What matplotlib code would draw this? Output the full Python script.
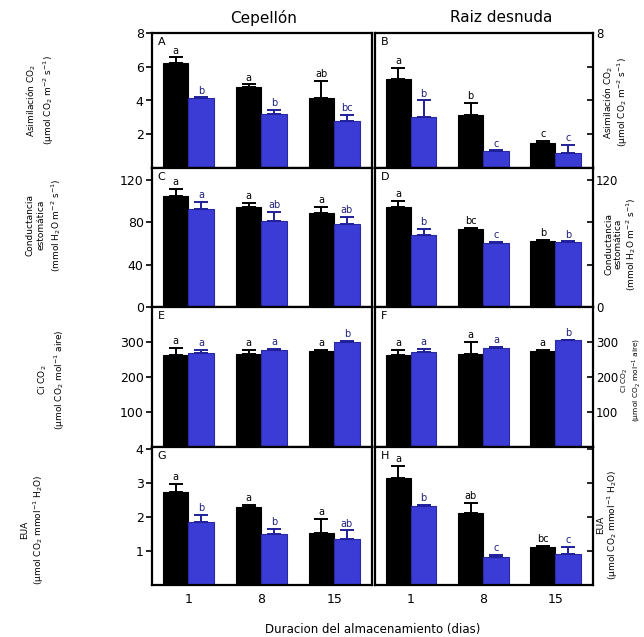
import matplotlib
matplotlib.use('Agg')
import matplotlib.pyplot as plt
import numpy as np

plt.rcParams['font.family'] = ['DejaVu Sans']

days = ['1', '8', '15']
col_titles = ['Cepellón', 'Raiz desnuda']

# Asimilacion CO2
asim_cep_black = [6.25, 4.8, 4.15]
asim_cep_black_err = [0.3, 0.17, 1.0]
asim_cep_blue = [4.12, 3.2, 2.8]
asim_cep_blue_err = [0.08, 0.23, 0.34]
asim_rd_black = [5.3, 3.14, 1.48]
asim_rd_black_err = [0.65, 0.71, 0.12]
asim_rd_blue = [3.0, 1.0, 0.9]
asim_rd_blue_err = [1.0, 0.05, 0.47]
asim_cep_let = [['a', 'a', 'ab'], ['b', 'b', 'bc']]
asim_rd_let = [['a', 'b', 'c'], ['b', 'c', 'c']]

# Conductancia estomatica
cond_cep_black = [105, 94.5, 89]
cond_cep_black_err = [6.5, 3.5, 5.5]
cond_cep_blue = [92.6, 81, 78.4]
cond_cep_blue_err = [6.5, 9, 6.6]
cond_rd_black = [94.5, 73.7, 62.4]
cond_rd_black_err = [5.5, 0.8, 0.6]
cond_rd_blue = [68, 60.5, 61.4]
cond_rd_blue_err = [5.7, 1.0, 0.6]
cond_cep_let = [['a', 'a', 'a'], ['a', 'ab', 'ab']]
cond_rd_let = [['a', 'bc', 'b'], ['b', 'c', 'b']]

# Ci CO2
ci_cep_black = [262, 265, 274]
ci_cep_black_err = [21, 12, 3]
ci_cep_blue = [268, 277, 300]
ci_cep_blue_err = [9, 3, 3]
ci_rd_black = [262, 265, 274]
ci_rd_black_err = [15, 35, 4]
ci_rd_blue = [271, 283, 306]
ci_rd_blue_err = [10, 4, 1]
ci_cep_let = [['a', 'a', 'a'], ['a', 'a', 'b']]
ci_rd_let = [['a', 'a', 'a'], ['a', 'a', 'b']]

# EUA
eua_cep_black = [2.74, 2.3, 1.53]
eua_cep_black_err = [0.23, 0.06, 0.42]
eua_cep_blue = [1.85, 1.5, 1.35]
eua_cep_blue_err = [0.21, 0.15, 0.25]
eua_rd_black = [3.15, 2.12, 1.12]
eua_rd_black_err = [0.35, 0.29, 0.03]
eua_rd_blue = [2.32, 0.82, 0.91]
eua_rd_blue_err = [0.03, 0.06, 0.21]
eua_cep_let = [['a', 'a', 'a'], ['b', 'b', 'ab']]
eua_rd_let = [['a', 'ab', 'bc'], ['b', 'c', 'c']]

# y ticks per row, and which labels show on the right-hand axis
row_ticks = [[2, 4, 6, 8], [0, 40, 80, 120], [100, 200, 300], [1, 2, 3, 4]]
right_labels = [['', '', '', '8'], ['0', '', '', '120'], ['100', '200', '300'], ['', '', '', '']]
row_ylim = [8, 131, 400, 4.05]

rows = [
    dict(cep=(asim_cep_black, asim_cep_black_err, asim_cep_blue, asim_cep_blue_err, asim_cep_let),
         rd=(asim_rd_black, asim_rd_black_err, asim_rd_blue, asim_rd_blue_err, asim_rd_let)),
    dict(cep=(cond_cep_black, cond_cep_black_err, cond_cep_blue, cond_cep_blue_err, cond_cep_let),
         rd=(cond_rd_black, cond_rd_black_err, cond_rd_blue, cond_rd_blue_err, cond_rd_let)),
    dict(cep=(ci_cep_black, ci_cep_black_err, ci_cep_blue, ci_cep_blue_err, ci_cep_let),
         rd=(ci_rd_black, ci_rd_black_err, ci_rd_blue, ci_rd_blue_err, ci_rd_let)),
    dict(cep=(eua_cep_black, eua_cep_black_err, eua_cep_blue, eua_cep_blue_err, eua_cep_let),
         rd=(eua_rd_black, eua_rd_black_err, eua_rd_blue, eua_rd_blue_err, eua_rd_let)),
]
panel_letters = [['A', 'B'], ['C', 'D'], ['E', 'F'], ['G', 'H']]

blue = '#3b3bd6'
W, H = 644, 637
fig = plt.figure(figsize=(W / 100, H / 100), dpi=100)

col_x = [(152, 372), (375, 593)]
row_y = [(33, 168), (168, 307), (307, 447), (447, 585)]

x = np.arange(3)
w = 0.35

for r, row in enumerate(rows):
    for c, key in enumerate(['cep', 'rd']):
        x0, x1 = col_x[c]
        y0, y1 = row_y[r]
        ax = fig.add_axes([x0 / W, 1 - y1 / H, (x1 - x0) / W, (y1 - y0) / H])
        bk, bk_err, bl, bl_err, lets = row[key]
        ax.bar(x - w / 2, bk, w, color='black', edgecolor='black', linewidth=0.8)
        ax.bar(x + w / 2, bl, w, color=blue, edgecolor='#2a2aa0', linewidth=0.8)
        ax.errorbar(x - w / 2, bk, yerr=[np.zeros(3), bk_err], fmt='none',
                    ecolor='black', elinewidth=1.4, capsize=5, capthick=1.4)
        ax.errorbar(x + w / 2, bl, yerr=[np.zeros(3), bl_err], fmt='none',
                    ecolor='#20209a', elinewidth=1.4, capsize=5, capthick=1.4)
        pad = row_ylim[r] * 0.012
        for i in range(3):
            ax.text(x[i] - w / 2, bk[i] + bk_err[i] + pad, lets[0][i],
                    ha='center', va='bottom', fontsize=7)
            ax.text(x[i] + w / 2, bl[i] + bl_err[i] + pad, lets[1][i],
                    ha='center', va='bottom', fontsize=7, color='#20207a')
        ax.set_xlim(-0.5, 2.52)
        ax.set_ylim(0, row_ylim[r])
        ax.set_yticks(row_ticks[r])
        for s in ax.spines.values():
            s.set_linewidth(1.6)
        ax.text(0.025, 0.97, panel_letters[r][c], transform=ax.transAxes,
                ha='left', va='top', fontsize=8)
        if c == 0:
            ax.tick_params(axis='y', direction='out', length=4, width=1.2,
                           labelsize=9, pad=2)
        else:
            ax.yaxis.tick_right()
            ax.set_yticklabels(right_labels[r])
            ax.tick_params(axis='y', direction='in', length=4, width=1.2,
                           labelsize=8.5, pad=2)
        ax.set_xticks(x)
        if r == 3:
            ax.set_xticklabels(days, fontsize=9)
            ax.tick_params(axis='x', length=0, pad=6)
        else:
            ax.set_xticklabels([])
            ax.tick_params(axis='x', length=0)

fig.text(264 / W, 1 - 18 / H, col_titles[0], ha='center', va='center', fontsize=11)
fig.text(501 / W, 1 - 18 / H, col_titles[1], ha='center', va='center', fontsize=11)
fig.text(373 / W, 1 - 630 / H, 'Duracion del almacenamiento (dias)',
         ha='center', va='center', fontsize=8.5)

ylabels = [
    'Asimilación CO$_2$\n(µmol CO$_2$ m$^{-2}$ s$^{-1}$)',
    'Conductancia\nestomática\n(mmol H$_2$O m$^{-2}$ s$^{-1}$)',
    'Ci CO$_2$\n(µmol CO$_2$ mol$^{-1}$ aire)',
    'EUA\n(µmol CO$_2$ mmol$^{-1}$ H$_2$O)',
]
left_pos = [(40, 100), (44, 225), (52, 380), (33, 530)]
right_pos = [(616, 102), (621, 244), (631, 380), (608, 525)]
right_size = [6.5, 6.5, 5.4, 6.5]
for k, lab in enumerate(ylabels):
    lx, ly = left_pos[k]
    rx, ry = right_pos[k]
    fig.text(lx / W, 1 - ly / H, lab, rotation=90, ha='center', va='center',
             fontsize=6.5, linespacing=1.3, multialignment='center')
    fig.text(rx / W, 1 - ry / H, lab, rotation=90, ha='center', va='center',
             fontsize=right_size[k], linespacing=1.1, multialignment='center')

fig.savefig('out.png', dpi=100)
